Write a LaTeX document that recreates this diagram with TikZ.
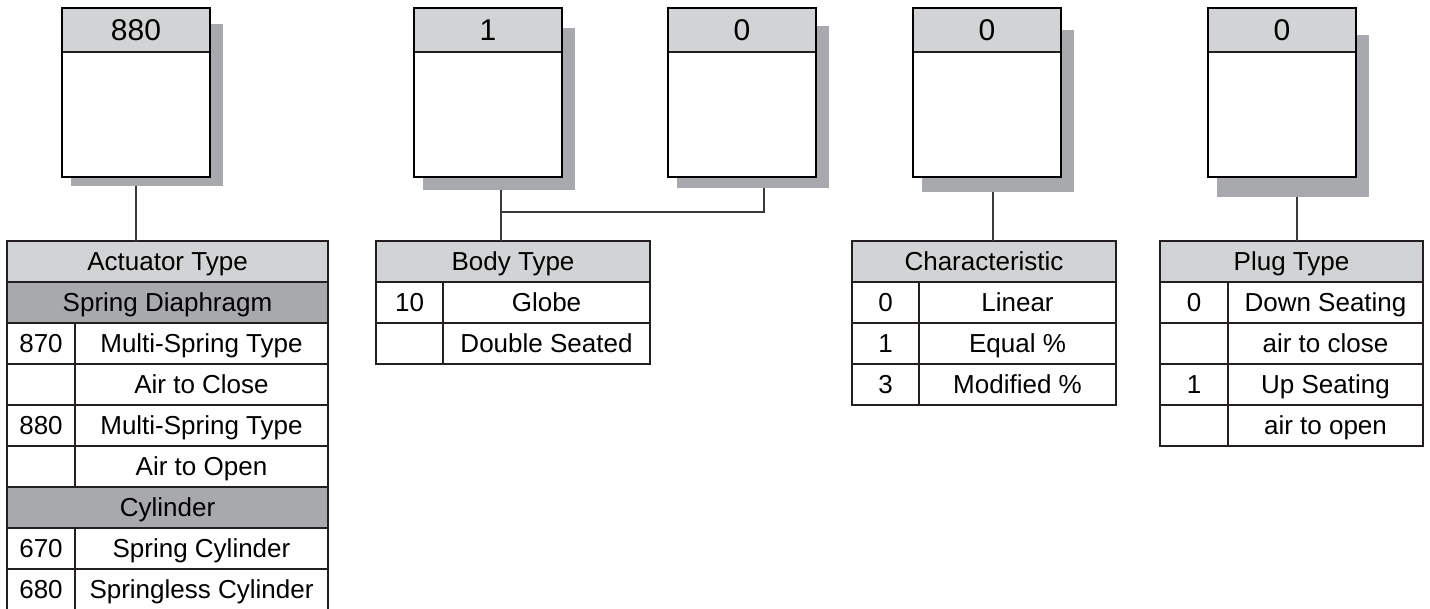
\documentclass[tikz,border=0pt]{standalone}
\usepackage{fontspec}
\setmainfont{Liberation Sans}
\usetikzlibrary{positioning}

\definecolor{hdrgray}{HTML}{D1D3D4}
\definecolor{subgray}{HTML}{A7A9AC}
\definecolor{shadegray}{HTML}{A7A9AC}
\definecolor{tline}{HTML}{231F20}
\definecolor{linkgray}{HTML}{3A3A3A}

\tikzset{
  shadowbox/.style={fill=shadegray, minimum width=76pt, minimum height=81pt, inner sep=0pt, outer sep=0pt, anchor=north west},
  boxhead/.style={draw=tline, line width=0.6pt, fill=hdrgray, minimum width=74pt, minimum height=22pt,
                  inner sep=0pt, outer sep=0pt, anchor=north west, text height=10.7pt, text depth=0pt,
                  font=\fontsize{15}{15}\selectfont},
  boxbody/.style={draw=tline, line width=0.6pt, fill=white, minimum width=74pt, minimum height=62.5pt,
                  inner sep=0pt, outer sep=0pt},
  boxedge/.style={draw=black, line width=1pt},
  tabcell/.style={draw=tline, line width=0.75pt, fill=white, minimum height=20.5pt, inner sep=0pt, outer sep=0pt,
                  text height=9.3pt, text depth=0pt, font=\fontsize{13}{13}\selectfont},
  tabhead/.style={tabcell, fill=hdrgray},
  tabsub/.style={tabcell, fill=subgray},
  link/.style={draw=linkgray, line width=0.7pt}
}

\begin{document}
\begin{tikzpicture}[x=0.5pt,y=-0.5pt]

\useasboundingbox (0,0) rectangle (1430,609);

% shadows
\node[shadowbox] (sh880) at (71,24) {};
\node[shadowbox] (shbody1) at (423,28) {};
\node[shadowbox] (shbody0) at (677,26) {};
\node[shadowbox] (shchar) at (922,30) {};
\node[shadowbox] (shplug) at (1217,35) {};

% code boxes
\node[boxhead] (h880) at (62,8) {880};
\node[boxbody, below=0pt of h880] (b880) {};
\node[boxhead] (hbody1) at (414,8) {1};
\node[boxbody, below=0pt of hbody1] (bbody1) {};
\node[boxhead] (hbody0) at (668,8) {0};
\node[boxbody, below=0pt of hbody0] (bbody0) {};
\node[boxhead] (hchar) at (913,8) {0};
\node[boxbody, below=0pt of hchar] (bchar) {};
\node[boxhead] (hplug) at (1208,8) {0};
\node[boxbody, below=0pt of hplug] (bplug) {};

\draw[boxedge] (h880.north west) rectangle (b880.south east);
\draw[boxedge] (hbody1.north west) rectangle (bbody1.south east);
\draw[boxedge] (hbody0.north west) rectangle (bbody0.south east);
\draw[boxedge] (hchar.north west) rectangle (bchar.south east);
\draw[boxedge] (hplug.north west) rectangle (bplug.south east);

% actuator table
\node[tabhead, minimum width=160.5pt, anchor=north west] (acthead) at (7,241) {Actuator Type};
\node[tabsub, minimum width=160.5pt, below=0pt of acthead] (actsd) {Spring Diaphragm};
\node[tabcell, minimum width=34pt, below right=0pt and 0pt of actsd.south west] (act1c) {870};
\node[tabcell, minimum width=126.5pt, right=0pt of act1c] (act1d) {Multi-Spring Type};
\node[tabcell, minimum width=34pt, below=0pt of act1c] (act2c) {};
\node[tabcell, minimum width=126.5pt, right=0pt of act2c] (act2d) {Air to Close};
\node[tabcell, minimum width=34pt, below=0pt of act2c] (act3c) {880};
\node[tabcell, minimum width=126.5pt, right=0pt of act3c] (act3d) {Multi-Spring Type};
\node[tabcell, minimum width=34pt, below=0pt of act3c] (act4c) {};
\node[tabcell, minimum width=126.5pt, right=0pt of act4c] (act4d) {Air to Open};
\node[tabsub, minimum width=160.5pt, below right=0pt and 0pt of act4c.south west] (actcyl) {Cylinder};
\node[tabcell, minimum width=34pt, below right=0pt and 0pt of actcyl.south west] (act5c) {670};
\node[tabcell, minimum width=126.5pt, right=0pt of act5c] (act5d) {Spring Cylinder};
\node[tabcell, minimum width=34pt, below=0pt of act5c] (act6c) {680};
\node[tabcell, minimum width=126.5pt, right=0pt of act6c] (act6d) {Springless Cylinder};

% body table
\node[tabhead, minimum width=137pt, anchor=north west] (bodyhead) at (376,241) {Body Type};
\node[tabcell, minimum width=33.5pt, below right=0pt and 0pt of bodyhead.south west] (body1c) {10};
\node[tabcell, minimum width=103.5pt, right=0pt of body1c] (body1d) {Globe};
\node[tabcell, minimum width=33.5pt, below=0pt of body1c] (body2c) {};
\node[tabcell, minimum width=103.5pt, right=0pt of body2c] (body2d) {Double Seated};

% characteristic table
\node[tabhead, minimum width=132pt, anchor=north west] (charhead) at (852,241) {Characteristic};
\node[tabcell, minimum width=33.5pt, below right=0pt and 0pt of charhead.south west] (char1c) {0};
\node[tabcell, minimum width=98.5pt, right=0pt of char1c] (char1d) {Linear};
\node[tabcell, minimum width=33.5pt, below=0pt of char1c] (char2c) {1};
\node[tabcell, minimum width=98.5pt, right=0pt of char2c] (char2d) {Equal \%};
\node[tabcell, minimum width=33.5pt, below=0pt of char2c] (char3c) {3};
\node[tabcell, minimum width=98.5pt, right=0pt of char3c] (char3d) {Modified \%};

% plug table
\node[tabhead, minimum width=131.5pt, anchor=north west] (plughead) at (1160,241) {Plug Type};
\node[tabcell, minimum width=34pt, below right=0pt and 0pt of plughead.south west] (plug1c) {0};
\node[tabcell, minimum width=97.5pt, right=0pt of plug1c] (plug1d) {Down Seating};
\node[tabcell, minimum width=34pt, below=0pt of plug1c] (plug2c) {};
\node[tabcell, minimum width=97.5pt, right=0pt of plug2c] (plug2d) {air to close};
\node[tabcell, minimum width=34pt, below=0pt of plug2c] (plug3c) {1};
\node[tabcell, minimum width=97.5pt, right=0pt of plug3c] (plug3d) {Up Seating};
\node[tabcell, minimum width=34pt, below=0pt of plug3c] (plug4c) {};
\node[tabcell, minimum width=97.5pt, right=0pt of plug4c] (plug4d) {air to open};

% links
\coordinate (j880) at (136,186);
\coordinate (jbody1) at (501,190);
\coordinate (jbody0) at (764,188);
\coordinate (jbus) at (501,212);
\coordinate (jchar) at (993,192);
\coordinate (jplug) at (1297,197);

\draw[link] (j880) -- (j880 |- acthead.north);
\draw[link] (jbody1) -- (jbody1 |- bodyhead.north);
\draw[link] (jbody0) |- (jbus);
\draw[link] (jchar) -- (jchar |- charhead.north);
\draw[link] (jplug) -- (jplug |- plughead.north);

\end{tikzpicture}
\end{document}
